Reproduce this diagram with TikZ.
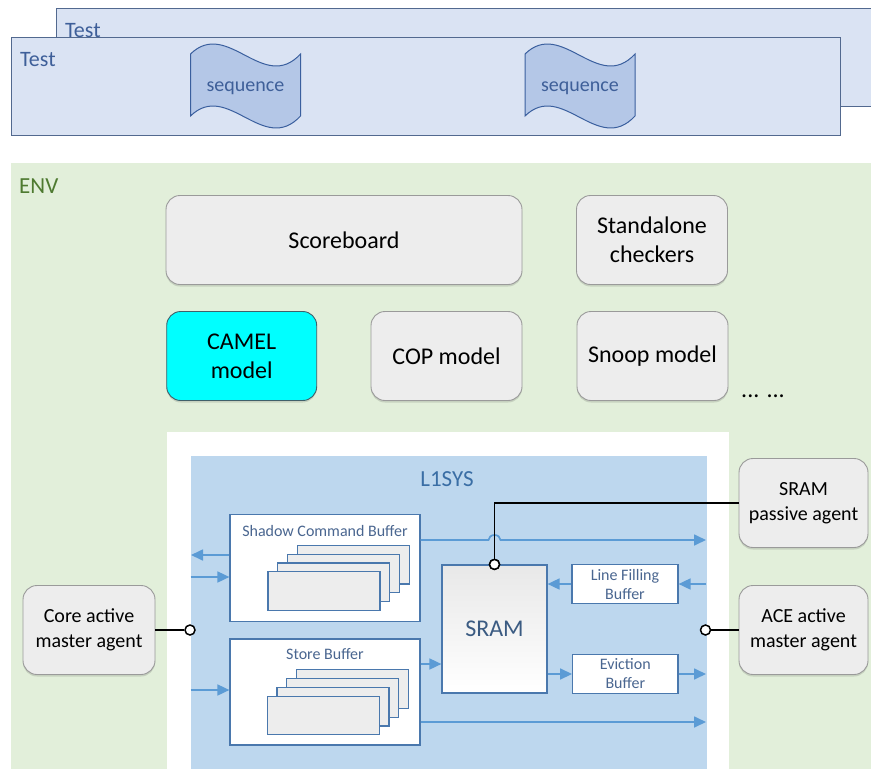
\documentclass[tikz,border=0pt]{standalone}
\usepackage{fontspec}
\setmainfont{Carlito}
\usetikzlibrary{arrows.meta, shadows}

\definecolor{testfill}{HTML}{DAE3F3}
\definecolor{testline}{HTML}{52698F}
\definecolor{testtext}{HTML}{3E5F99}
\definecolor{seqfill}{HTML}{B4C7E7}
\definecolor{seqline}{HTML}{3A5F9E}
\definecolor{envfill}{HTML}{E2EFDA}
\definecolor{envtext}{HTML}{4E7A30}
\definecolor{boxfill}{HTML}{EDEDED}
\definecolor{boxline}{HTML}{9A9A9A}
\definecolor{camelfill}{HTML}{00FFFF}
\definecolor{camelline}{HTML}{40606A}
\definecolor{l1fill}{HTML}{BDD7EE}
\definecolor{l1text}{HTML}{3A6EA5}
\definecolor{bufline}{HTML}{4A78AD}
\definecolor{buftext}{HTML}{4A6690}
\definecolor{sramtext}{HTML}{3B5B82}
\definecolor{cardfill}{HTML}{EDEDED}
\definecolor{flowblue}{HTML}{5B9BD5}

\begin{document}
\begin{tikzpicture}[
    x=1pt, y=-1pt,
    font=\fontsize{24}{29}\selectfont,
    testbox/.style={draw=testline, fill=testfill, line width=1.2pt},
    testlabel/.style={text=testtext, font=\fontsize{22}{27}\selectfont, inner sep=0pt, anchor=base west},
    seqshape/.style={draw=seqline, fill=seqfill, line width=1pt},
    seqtext/.style={text=testtext, font=\fontsize{20}{24}\selectfont},
    box/.style={draw=boxline, rounded corners=14pt, fill=boxfill, line width=0.9pt, align=center, minimum height=89pt,
        drop shadow={shadow xshift=0pt, shadow yshift=-2pt, fill=black, opacity=0.12}},
    agent/.style={box, font=\fontsize{20}{25}\selectfont, minimum width=130pt},
    buf/.style={draw=bufline, fill=white, line width=1.2pt},
    buftitle/.style={text=buftext, font=\fontsize{16}{19}\selectfont, align=center},
    card/.style={draw=bufline, fill=cardfill, line width=1.2pt, minimum width=112pt, minimum height=38.6pt},
    flow/.style={draw=flowblue, line width=1.7pt, -{Triangle[length=12pt, width=11pt]}},
    wire/.style={line width=1.5pt},
    port/.style={circle, draw, fill=white, line width=1.5pt, inner sep=0pt, minimum size=10pt}
]
\clip (0,0) rectangle (871,769);

% tests
\node[testbox, anchor=north west, minimum width=830pt, minimum height=98pt] (testback) at (56,8) {};
\node[testlabel] (testbacklbl) at (65,37.5) {Test};
\node[testbox, anchor=north west, minimum width=829pt, minimum height=97.5pt] (test) at (11,37) {};
\node[testlabel] (testlbl) at (20,66.5) {Test};
\foreach \n/\cx in {seqa/245.5, seqb/580} {
    \draw[seqshape] (\cx-55,54) .. controls (\cx-18,18) and (\cx+18,94) .. (\cx+55,54)
        -- (\cx+55,116) .. controls (\cx+18,156) and (\cx-18,80) .. (\cx-55,116) -- cycle;
    \node[seqtext] (\n) at (\cx,88) {sequence};
}

% env
\fill[envfill] (11,163) rectangle (880,780);
\node[text=envtext, font=\fontsize{23}{28}\selectfont, inner sep=0pt, anchor=base west] (env) at (19,193.3) {ENV};

\node[box, minimum width=356pt] (score) at (344,240) {Scoreboard};
\node[box, minimum width=151pt] (checkers) at (652,240) {Standalone\\checkers};
\node[box, minimum width=150pt, fill=camelfill, draw=camelline] (camel) at (241.7,356) {CAMEL\\model};
\node[box, minimum width=151pt] (cop) at (446.5,356) {COP model};
\node[box, minimum width=151pt] (snoop) at (652.5,356) {Snoop model};
\node[inner sep=0pt, anchor=base west] (more) at (741,397) {... ...};

% l1sys
\fill[white] (166.7,431.7) rectangle (729,780);
\fill[l1fill] (190.5,456) rectangle (706.5,780);
\node[text=l1text, font=\fontsize{23}{28}\selectfont, inner sep=0pt, anchor=base] (l1sys) at (447,486) {L1SYS};

\node[buf, minimum width=190pt, minimum height=107.7pt] (scb) at (325,568) {};
\node[buftitle] (scbtitle) at ([yshift=-17pt]scb.north) {Shadow Command Buffer};
\foreach \i in {3,2,1,0}
    \node[card] (scbcard\i) at (324+9.7*\i, 591-8.8*\i) {};

\node[buf, minimum width=190pt, minimum height=106pt] (sb) at (325,692) {};
\node[buftitle] (sbtitle) at ([yshift=-16pt]sb.north) {Store Buffer};
\foreach \i in {3,2,1,0}
    \node[card] (sbcard\i) at (323.3+9.7*\i, 715.5-8.8*\i) {};

\node[draw=bufline, line width=1.2pt, top color=black!9, bottom color=white,
    minimum width=105pt, minimum height=128pt, text=sramtext] (sram) at (494.5,629) {SRAM};
\node[buf, buftitle, minimum width=106pt, minimum height=38.3pt, inner sep=1pt] (lfb) at (625,584) {Line Filling\\Buffer};
\node[buf, buftitle, minimum width=105.3pt, minimum height=38.3pt, inner sep=1pt] (eb) at (625.3,674) {Eviction\\Buffer};

% agents
\node[agent, minimum width=132pt] (core) at (89,630) {Core active\\master agent};
\node[agent, minimum width=129pt] (srampa) at (803.5,503) {SRAM\\passive agent};
\node[agent, minimum width=129pt] (ace) at (803.5,630) {ACE active\\master agent};

% flows
\coordinate (r1) at (706,540);
\coordinate (r2) at (706,584);
\coordinate (r3) at (706,674);
\coordinate (r4) at (706,722);
\coordinate (l1) at (191,555);
\coordinate (l2) at (190.5,577);
\coordinate (l3) at (190.5,690);

\node[port] (sramp) at (sram.north) {};
\node[port] (corep) at (190,630) {};
\node[port] (acep) at (705.5,630) {};

\draw[flow] (r1 -| scb.east) -- ([xshift=-6pt]r1 -| sramp) arc[start angle=180, end angle=0, x radius=6pt, y radius=5pt] -- (r1);
\draw[flow] (l1 -| scb.west) -- (l1);
\draw[flow] (l2) -- (l2 -| scb.west);
\draw[flow] (l3) -- (l3 -| sb.west);
\draw[flow] ([yshift=28pt]sb.east) coordinate (s1) -- (s1 -| sram.west);
\draw[flow] (r4 -| sb.east) -- (r4);
\draw[flow] (lfb.west) -- (lfb -| sram.east);
\draw[flow] (r2) -- (lfb.east);
\draw[flow] (eb -| sram.east) -- (eb.west);
\draw[flow] (eb.east) -- (r3);

% wires
\draw[wire] (sramp) |- (srampa);
\draw[wire] (core) -- (corep);
\draw[wire] (acep) -- (ace);
\node[port] at (sramp) {};

\end{tikzpicture}
\end{document}
